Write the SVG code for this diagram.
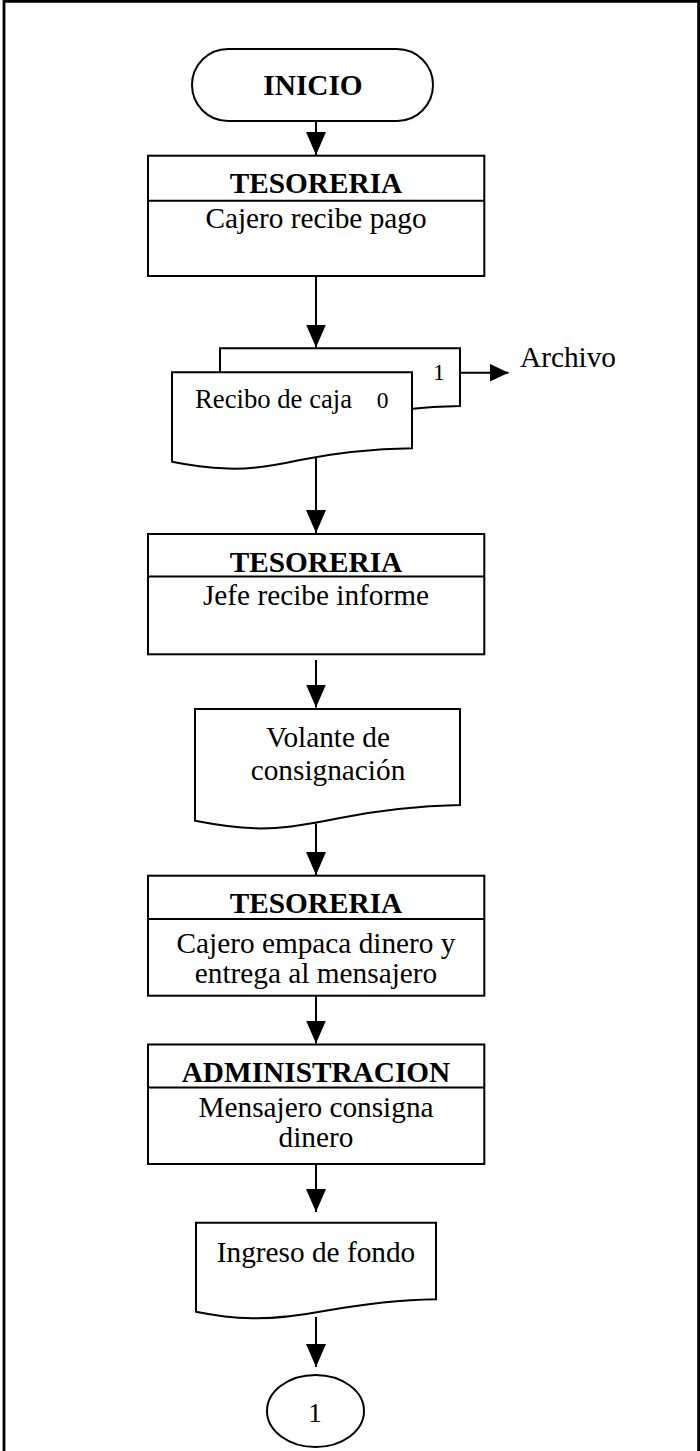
<svg xmlns="http://www.w3.org/2000/svg" width="700" height="1451" viewBox="0 0 700 1451">
  <style>
    .shape { fill: #ffffff; stroke: #000000; stroke-width: 2; }
    .rule { fill: none; stroke: #000000; stroke-width: 2; }
    .frame { fill: none; stroke: #000000; stroke-width: 2.8; }
    .conn { fill: none; stroke: #000000; stroke-width: 2; }
    .t { font-family: "Liberation Serif", "Times New Roman", serif; font-size: 29.3px; fill: #000000; }
    .b { font-weight: bold; }
    .c { text-anchor: middle; }
    .doc { font-size: 26.7px; }
    .tag { font-size: 23.5px; }
  </style>
  <defs>
    <marker id="arrow" markerUnits="userSpaceOnUse" markerWidth="24" markerHeight="22" refX="23" refY="10" orient="auto">
      <path d="M0,0 L23,10 L0,20 Z" fill="#000000"/>
    </marker>
    <marker id="arrow-sm" markerUnits="userSpaceOnUse" markerWidth="20" markerHeight="19" refX="19" refY="9" orient="auto">
      <path d="M0,0 L19,9 L0,18 Z" fill="#000000"/>
    </marker>
  </defs>

  <rect x="0" y="0" width="700" height="1451" fill="#ffffff"/>

  <!-- page frame (open at the bottom) -->
  <path class="frame" d="M4,1451 V1.4 H698.6 V1451"/>

  <!-- start terminator -->
  <g id="inicio">
    <rect class="shape" x="192" y="49" width="241" height="72" rx="36" ry="36"/>
    <text class="t b c" x="313" y="95">INICIO</text>
  </g>

  <!-- cashier receives payment -->
  <g id="tesoreria-1">
    <rect class="shape" x="148" y="155.7" width="336.3" height="120.3"/>
    <line class="rule" x1="148" y1="200.7" x2="484.3" y2="200.7"/>
    <text class="t b c" x="316" y="193">TESORERIA</text>
    <text class="t c" x="316" y="228">Cajero recibe pago</text>
  </g>

  <!-- cash receipt, original and copy -->
  <g id="recibo-caja">
    <path class="shape" d="M220,348.3 H460 V406 C420,406.5 390,410 350,418 C318,424 298,426.5 278,426 C255,425.5 236,423 220,419.5 Z"/>
    <text class="t tag" x="433" y="380">1</text>
    <path class="shape" d="M172,372.3 H412 V448.3 C372,449 340,452 300,460 C268,467 248,469.5 228,468.5 C205,467.5 188,465 172,461.7 Z"/>
    <text class="t doc" x="195" y="407.7">Recibo de caja</text>
    <text class="t tag" x="376.7" y="408">0</text>
  </g>

  <g id="archivo">
    <text class="t" x="520" y="367.3">Archivo</text>
  </g>

  <!-- head of treasury receives report -->
  <g id="tesoreria-2">
    <rect class="shape" x="148" y="534" width="336.3" height="120.3"/>
    <line class="rule" x1="148" y1="576.5" x2="484.3" y2="576.5"/>
    <text class="t b c" x="316" y="571.7">TESORERIA</text>
    <text class="t c" x="316" y="605">Jefe recibe informe</text>
  </g>

  <!-- deposit slip -->
  <g id="volante">
    <path class="shape" d="M195,709 H460 V805 C416,806 380,810 340,818 C300,826 278,829 255,828.3 C230,827.5 212,824 195,820.7 Z"/>
    <text class="t c" x="328" y="746.7">Volante de</text>
    <text class="t c" x="328" y="780">consignación</text>
  </g>

  <!-- cashier packs the money -->
  <g id="tesoreria-3">
    <rect class="shape" x="148" y="875.7" width="336.3" height="120"/>
    <line class="rule" x1="148" y1="919" x2="484.3" y2="919"/>
    <text class="t b c" x="316" y="912.7">TESORERIA</text>
    <text class="t c" x="316" y="953.3">Cajero empaca dinero y</text>
    <text class="t c" x="316" y="983.3">entrega al mensajero</text>
  </g>

  <!-- messenger deposits the money -->
  <g id="administracion">
    <rect class="shape" x="148" y="1044.5" width="336.3" height="119.5"/>
    <line class="rule" x1="148" y1="1087.5" x2="484.3" y2="1087.5"/>
    <text class="t b c" x="316" y="1081.7">ADMINISTRACION</text>
    <text class="t c" x="316" y="1116.7">Mensajero consigna</text>
    <text class="t c" x="316" y="1146.7">dinero</text>
  </g>

  <!-- funds income document -->
  <g id="ingreso">
    <path class="shape" d="M196,1222.7 H436 V1299.3 C396,1300 364,1304 324,1311 C292,1317 272,1318.7 252,1318.3 C228,1317.8 212,1315 196,1311.7 Z"/>
    <text class="t c" x="316" y="1261.7">Ingreso de fondo</text>
  </g>

  <!-- off-page connector -->
  <g id="conector-1">
    <ellipse class="shape" cx="315.5" cy="1411" rx="48.5" ry="36"/>
    <text class="t c" x="315" y="1421.7" style="font-size:27px">1</text>
  </g>

  <g id="connectors">
    <line class="conn" x1="316" y1="121" x2="316" y2="155" marker-end="url(#arrow)"/>
    <line class="conn" x1="316" y1="276" x2="316" y2="347.5" marker-end="url(#arrow)"/>
    <line class="conn" x1="460" y1="372.7" x2="508.5" y2="372.7" marker-end="url(#arrow-sm)"/>
    <line class="conn" x1="316" y1="456.5" x2="316" y2="533" marker-end="url(#arrow)"/>
    <line class="conn" x1="316" y1="660" x2="316" y2="707.5" marker-end="url(#arrow)"/>
    <line class="conn" x1="316" y1="823.5" x2="316" y2="875" marker-end="url(#arrow)"/>
    <line class="conn" x1="316" y1="995.7" x2="316" y2="1043.5" marker-end="url(#arrow)"/>
    <line class="conn" x1="316" y1="1164" x2="316" y2="1212" marker-end="url(#arrow)"/>
    <line class="conn" x1="316" y1="1317" x2="316" y2="1367" marker-end="url(#arrow)"/>
  </g>
</svg>
